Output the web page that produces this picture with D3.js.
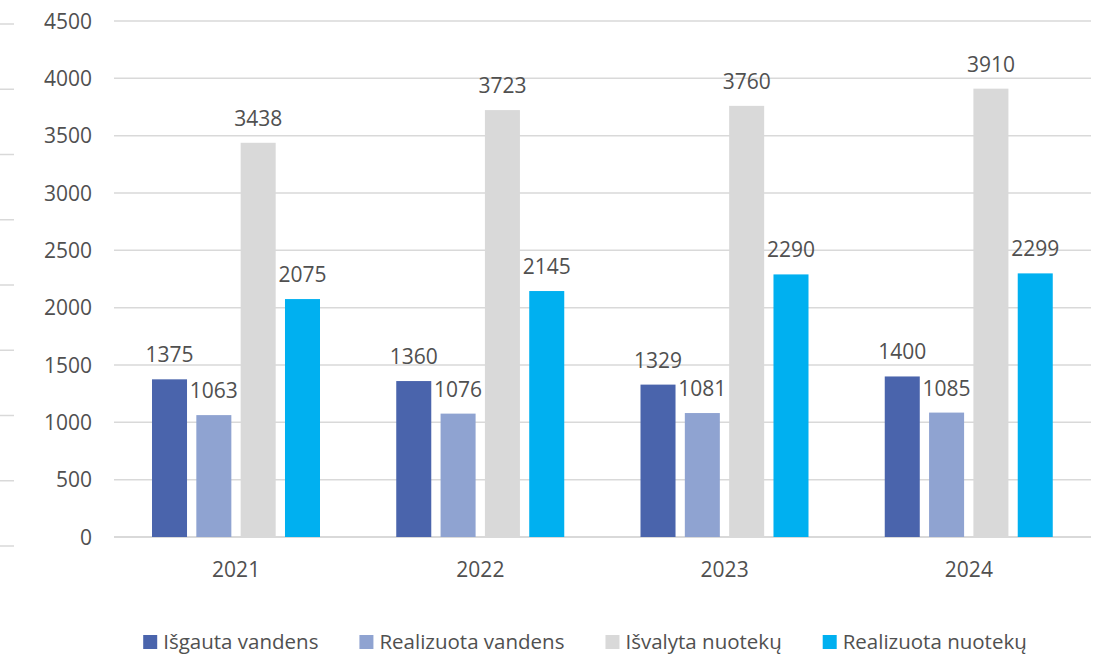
<!DOCTYPE html>
<html lang="lt">
  <head>
    <meta charset="utf-8">
    <script src="https://cdnjs.cloudflare.com/ajax/libs/d3/7.8.5/d3.min.js"></script>
    <style>
      body { margin: 0; background: #fff; }
      svg text { font-family: "Open Sans", sans-serif; fill: #505050; }
      .grid line { stroke: #d9d9d9; stroke-width: 1.5px; }
      .stub line { stroke: #d9d9d9; stroke-width: 1.5px; }
    </style>
  </head>
  <body>
  <script>
  var years = ['2021', '2022', '2023', '2024'];
  var seriesNames = ['Išgauta vandens', 'Realizuota vandens', 'Išvalyta nuotekų', 'Realizuota nuotekų'];
  var isgauta = [1375, 1360, 1329, 1400];
  var realizuotaVandens = [1063, 1076, 1081, 1085];
  var isvalyta = [3438, 3723, 3760, 3910];
  var realizuotaNuoteku = [2075, 2145, 2290, 2299];
  var yTicks = [0, 500, 1000, 1500, 2000, 2500, 3000, 3500, 4000, 4500];
  var colors = ['#4a64ac', '#8fa3d1', '#d9d9d9', '#00b0f0'];

  var series = [isgauta, realizuotaVandens, isvalyta, realizuotaNuoteku];

  var width = 1100,
      height = 656;

  var svg = d3.select('body')
    .append('svg')
    .attr('width', width)
    .attr('height', height);

  // left edge stubs (gridlines of a neighbouring chart, cut off)
  var stub = d3.scaleLinear().domain([0, 8]).range([546, 24]);
  svg.append('g')
    .attr('class', 'stub')
    .selectAll('line')
    .data(d3.range(9))
    .enter().append('line')
      .attr('x1', 0).attr('x2', 14)
      .attr('y1', d => stub(d)).attr('y2', d => stub(d));

  var y = d3.scaleLinear().domain([0, 4500]).range([537, 21]);
  var x = d3.scaleBand().domain(years).range([114, 1091]);
  var xs = d3.scaleBand().domain(d3.range(4)).range([38, 206]).paddingInner(0.21);

  svg.append('g')
    .attr('class', 'grid')
    .selectAll('line')
    .data(yTicks)
    .enter().append('line')
      .attr('x1', 114).attr('x2', 1091)
      .attr('y1', d => y(d)).attr('y2', d => y(d))
      .style('stroke-width', d => d === 0 ? 2 : 1.5);

  svg.append('g')
    .selectAll('text')
    .data(yTicks)
    .enter().append('text')
      .attr('x', 92)
      .attr('y', d => y(d))
      .attr('dy', '0.36em')
      .attr('text-anchor', 'end')
      .style('font-size', '21px')
      .text(d => d);

  var groups = svg.append('g')
    .selectAll('g')
    .data(years)
    .enter().append('g')
      .attr('transform', d => 'translate(' + x(d) + ',0)');

  groups.selectAll('rect')
    .data((d, i) => series.map((s, k) => ({ k: k, v: s[i] })))
    .enter().append('rect')
      .attr('x', d => xs(d.k))
      .attr('width', xs.bandwidth())
      .attr('y', d => y(d.v))
      .attr('height', d => y(0) - y(d.v))
      .attr('fill', d => colors[d.k]);

  groups.selectAll('text.val')
    .data((d, i) => series.map((s, k) => ({ k: k, v: s[i] })))
    .enter().append('text')
      .attr('class', 'val')
      .attr('x', d => xs(d.k) + xs.bandwidth() / 2)
      .attr('y', d => y(d.v) - 17)
      .attr('text-anchor', 'middle')
      .style('font-size', '21px')
      .text(d => d.v);

  svg.append('g')
    .selectAll('text')
    .data(years)
    .enter().append('text')
      .attr('x', d => x(d) + x.bandwidth() / 2)
      .attr('y', 577)
      .attr('text-anchor', 'middle')
      .style('font-size', '21px')
      .text(d => d);

  // legend, laid out from measured text widths
  var legend = svg.append('g');
  var items = legend.selectAll('g')
    .data(seriesNames)
    .enter().append('g');
  items.append('rect')
    .attr('width', 14).attr('height', 14)
    .attr('y', 635)
    .attr('fill', (d, i) => colors[i]);
  items.append('text')
    .attr('x', 20)
    .attr('y', 649)
    .style('font-size', '20.5px')
    .text(d => d);

  var pos = 0, offs = [];
  items.each(function () {
    offs.push(pos);
    pos += 20 + this.querySelector('text').getComputedTextLength() + 41;
  });
  var total = pos - 41;
  var start = 585 - total / 2;
  items.attr('transform', (d, i) => 'translate(' + (start + offs[i]) + ',0)');
  </script>
  </body>
</html>
